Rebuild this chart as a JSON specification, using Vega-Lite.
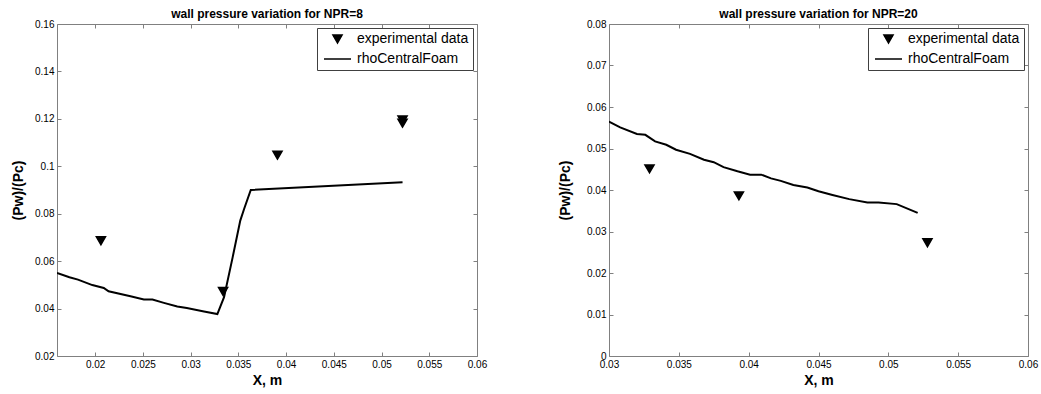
{
  "$schema": "https://vega.github.io/schema/vega-lite/v6.json",
  "background": "white",
  "padding": {"left": 11, "top": 7, "right": 8, "bottom": 4},
  "config": {
    "font": "Liberation Sans",
    "view": {"stroke": "#808080", "strokeWidth": 1},
    "axis": {"grid": false, "domain": false, "tickColor": "#808080", "tickSize": -4, "labelPadding": 7, "labelFontSize": 10, "labelColor": "black", "labelFont": "Liberation Sans", "titleFont": "Liberation Sans", "titleFontSize": 14, "titleFontWeight": "bold", "titleColor": "black", "labelFlush": false, "labelOverlap": false},
    "title": {"font": "Liberation Sans", "fontSize": 12, "fontWeight": "bold", "color": "black", "anchor": "middle", "offset": -2},
    "legend": {"labelFont": "Liberation Sans", "labelFontSize": 14, "labelColor": "black", "strokeColor": "#404040", "fillColor": "white", "padding": 4, "orient": "top-right", "offset": 4, "symbolStrokeWidth": 1.6, "labelOffset": 5, "symbolOffset": 2, "rowPadding": 6, "clipHeight": 14}
  },
  "datasets": {
    "exp8": [
      {"x": 0.0206, "y": 0.0686, "series": "experimental data"},
      {"x": 0.0334, "y": 0.0472, "series": "experimental data"},
      {"x": 0.0391, "y": 0.1047, "series": "experimental data"},
      {"x": 0.0522, "y": 0.1195, "series": "experimental data"},
      {"x": 0.0522, "y": 0.1182, "series": "experimental data"}
    ],
    "cfd8": [
      {"x": 0.0160, "y": 0.0550}, {"x": 0.0173, "y": 0.0532}, {"x": 0.0182, "y": 0.0522},
      {"x": 0.0197, "y": 0.0499}, {"x": 0.0209, "y": 0.0487}, {"x": 0.0214, "y": 0.0473},
      {"x": 0.0237, "y": 0.0452}, {"x": 0.0251, "y": 0.0438}, {"x": 0.0260, "y": 0.0438},
      {"x": 0.0272, "y": 0.0424}, {"x": 0.0286, "y": 0.0409}, {"x": 0.0296, "y": 0.0402},
      {"x": 0.0314, "y": 0.0388}, {"x": 0.0328, "y": 0.0377}, {"x": 0.0335, "y": 0.0448},
      {"x": 0.0344, "y": 0.0616}, {"x": 0.0352, "y": 0.0771}, {"x": 0.0356, "y": 0.0820},
      {"x": 0.0363, "y": 0.0900}, {"x": 0.0522, "y": 0.0933}
    ],
    "exp20": [
      {"x": 0.0329, "y": 0.0451, "series": "experimental data"},
      {"x": 0.0393, "y": 0.0386, "series": "experimental data"},
      {"x": 0.0528, "y": 0.0273, "series": "experimental data"}
    ],
    "cfd20": [
      {"x": 0.0300, "y": 0.0565}, {"x": 0.0308, "y": 0.0551}, {"x": 0.0320, "y": 0.0535},
      {"x": 0.0326, "y": 0.0533}, {"x": 0.0333, "y": 0.0517}, {"x": 0.0341, "y": 0.0509},
      {"x": 0.0348, "y": 0.0497}, {"x": 0.0358, "y": 0.0487}, {"x": 0.0368, "y": 0.0473},
      {"x": 0.0375, "y": 0.0467}, {"x": 0.0382, "y": 0.0455}, {"x": 0.0392, "y": 0.0445},
      {"x": 0.0401, "y": 0.0437}, {"x": 0.0409, "y": 0.0437}, {"x": 0.0416, "y": 0.0428},
      {"x": 0.0423, "y": 0.0422}, {"x": 0.0432, "y": 0.0412}, {"x": 0.0442, "y": 0.0406},
      {"x": 0.0450, "y": 0.0397}, {"x": 0.0460, "y": 0.0388}, {"x": 0.0472, "y": 0.0378},
      {"x": 0.0485, "y": 0.0370}, {"x": 0.0493, "y": 0.0370}, {"x": 0.0506, "y": 0.0366},
      {"x": 0.0521, "y": 0.0345}
    ]
  },
  "bounds": "flush",
  "spacing": 132,
  "hconcat": [
    {
      "width": 420,
      "height": 332,
      "title": "wall pressure variation for NPR=8",
      "resolve": {"axis": {"x": "independent", "y": "independent"}},
      "layer": [
        {
          "data": {"name": "cfd8"},
          "mark": {"type": "line", "color": "black", "strokeWidth": 2, "clip": true},
          "encoding": {
            "x": {"field": "x", "type": "quantitative", "scale": {"domain": [0.016, 0.06], "nice": false, "zero": false}, "axis": {"title": "X, m", "values": [0.02, 0.025, 0.03, 0.035, 0.04, 0.045, 0.05, 0.055, 0.06], "format": "~g", "titlePadding": 4}},
            "y": {"field": "y", "type": "quantitative", "scale": {"domain": [0.02, 0.16], "nice": false, "zero": false}, "axis": {"title": "(Pw)/(Pc)", "values": [0.02, 0.04, 0.06, 0.08, 0.1, 0.12, 0.14, 0.16], "format": "~g", "titlePadding": 9}}
          }
        },
        {
          "data": {"name": "exp8"},
          "mark": {"type": "point", "filled": true, "fill": "black", "stroke": "black", "strokeWidth": 1.6, "opacity": 1},
          "encoding": {
            "x": {"field": "x", "type": "quantitative", "axis": {"orient": "top", "labels": false, "labelPadding": 0, "title": null, "values": [0.02, 0.025, 0.03, 0.035, 0.04, 0.045, 0.05, 0.055, 0.06]}},
            "y": {"field": "y", "type": "quantitative", "axis": {"orient": "right", "labels": false, "labelPadding": 0, "title": null, "values": [0.02, 0.04, 0.06, 0.08, 0.1, 0.12, 0.14, 0.16]}},
            "shape": {"field": "series", "type": "nominal", "scale": {"domain": ["experimental data", "rhoCentralFoam"], "range": ["triangle-down", "stroke"]}, "legend": {"title": null, "encode": {"symbols": {"update": {"stroke": {"value": "black"}, "fill": {"value": "black"}, "strokeWidth": {"value": 1.6}}}}}},
            "size": {"field": "series", "type": "nominal", "scale": {"domain": ["experimental data", "rhoCentralFoam"], "range": [80, 729]}, "legend": {"title": null, "encode": {"symbols": {"update": {"stroke": {"value": "black"}, "fill": {"value": "black"}, "strokeWidth": {"value": 1.6}}}}}}
          }
        }
      ]
    },
    {
      "width": 419,
      "height": 332,
      "title": "wall pressure variation for NPR=20",
      "resolve": {"axis": {"x": "independent", "y": "independent"}},
      "layer": [
        {
          "data": {"name": "cfd20"},
          "mark": {"type": "line", "color": "black", "strokeWidth": 2, "clip": true},
          "encoding": {
            "x": {"field": "x", "type": "quantitative", "scale": {"domain": [0.03, 0.06], "nice": false, "zero": false}, "axis": {"title": "X, m", "values": [0.03, 0.035, 0.04, 0.045, 0.05, 0.055, 0.06], "format": "~g", "titlePadding": 4}},
            "y": {"field": "y", "type": "quantitative", "scale": {"domain": [0, 0.08], "nice": false, "zero": false}, "axis": {"title": "(Pw)/(Pc)", "values": [0, 0.01, 0.02, 0.03, 0.04, 0.05, 0.06, 0.07, 0.08], "format": "~g", "titlePadding": 14}}
          }
        },
        {
          "data": {"name": "exp20"},
          "mark": {"type": "point", "filled": true, "fill": "black", "stroke": "black", "strokeWidth": 1.6, "opacity": 1},
          "encoding": {
            "x": {"field": "x", "type": "quantitative", "axis": {"orient": "top", "labels": false, "labelPadding": 0, "title": null, "values": [0.03, 0.035, 0.04, 0.045, 0.05, 0.055, 0.06]}},
            "y": {"field": "y", "type": "quantitative", "axis": {"orient": "right", "labels": false, "labelPadding": 0, "title": null, "values": [0, 0.01, 0.02, 0.03, 0.04, 0.05, 0.06, 0.07, 0.08]}},
            "shape": {"field": "series", "type": "nominal", "scale": {"domain": ["experimental data", "rhoCentralFoam"], "range": ["triangle-down", "stroke"]}, "legend": {"title": null, "encode": {"symbols": {"update": {"stroke": {"value": "black"}, "fill": {"value": "black"}, "strokeWidth": {"value": 1.6}}}}}},
            "size": {"field": "series", "type": "nominal", "scale": {"domain": ["experimental data", "rhoCentralFoam"], "range": [80, 729]}, "legend": {"title": null, "encode": {"symbols": {"update": {"stroke": {"value": "black"}, "fill": {"value": "black"}, "strokeWidth": {"value": 1.6}}}}}}
          }
        }
      ]
    }
  ],
  "resolve": {"scale": {"shape": "independent", "size": "independent"}, "legend": {"shape": "independent", "size": "independent"}}
}
